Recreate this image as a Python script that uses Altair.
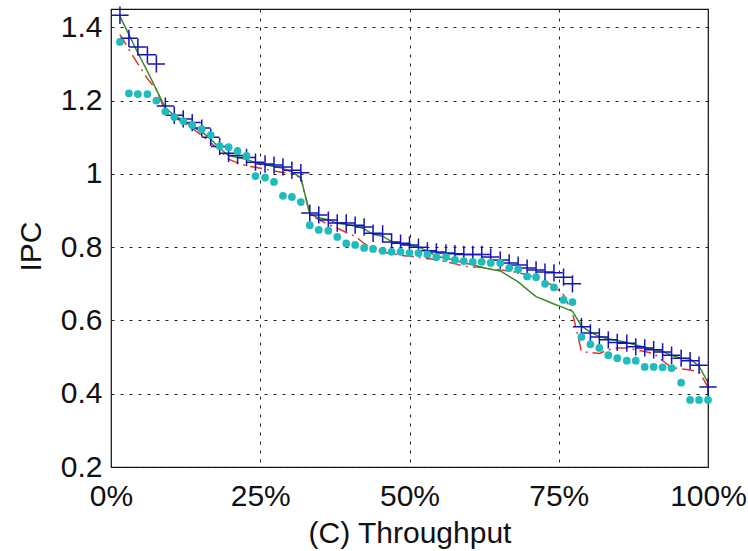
import altair as alt
import pandas as pd

# x positions (% of workloads)
x_pct = [1.5, 3.0, 4.5, 6.1, 7.6, 9.1, 10.6, 12.1, 13.6, 15.2,
         16.7, 18.2, 19.7, 21.2, 22.7, 24.2, 25.8, 27.3, 28.8, 30.3,
         31.8, 33.3, 34.8, 36.4, 37.9, 39.4, 40.9, 42.4, 43.9, 45.5,
         47.0, 48.5, 50.0, 51.5, 53.0, 54.5, 56.1, 57.6, 59.1, 60.6,
         62.1, 63.6, 65.2, 66.7, 68.2, 69.7, 71.2, 72.7, 74.2, 75.8,
         77.3, 78.8, 80.3, 81.8, 83.3, 84.8, 86.4, 87.9, 89.4, 90.9,
         92.4, 93.9, 95.5, 97.0, 98.5, 100.0]

blue_ipc = [1.433, 1.37, 1.346, 1.325, 1.30, 1.185, 1.16, 1.15, 1.14, 1.125,
            1.10, 1.075, 1.056, 1.05, 1.045, 1.032, 1.027, 1.024, 1.019, 1.01,
            1.003, 0.893, 0.888, 0.874, 0.866, 0.866, 0.86, 0.855, 0.838, 0.836,
            0.814, 0.811, 0.806, 0.80, 0.79, 0.787, 0.784, 0.782, 0.78, 0.78,
            0.78, 0.773, 0.765, 0.757, 0.751, 0.743, 0.738, 0.732, 0.73, 0.718,
            0.70, 0.583, 0.566, 0.555, 0.547, 0.54, 0.538, 0.528, 0.525, 0.52,
            0.514, 0.505, 0.497, 0.49, 0.478, 0.418]

green_ipc = [1.43, 1.38, 1.33, 1.28, 1.23, 1.18, 1.16, 1.145, 1.13, 1.115,
             1.095, 1.07, 1.05, 1.045, 1.04, 1.03, 1.025, 1.02, 1.015, 1.005,
             0.99, 0.89, 0.88, 0.875, 0.865, 0.862, 0.858, 0.85, 0.835, 0.83,
             0.815, 0.81, 0.805, 0.80, 0.79, 0.775, 0.77, 0.765, 0.757, 0.752,
             0.745, 0.74, 0.735, 0.72, 0.705, 0.685, 0.665, 0.655, 0.645, 0.635,
             0.625, 0.585, 0.568, 0.556, 0.55, 0.545, 0.54, 0.533, 0.527, 0.52,
             0.515, 0.505, 0.497, 0.495, 0.475, 0.43]

red_ipc = [1.38, 1.34, 1.30, 1.26, 1.23, 1.17, 1.155, 1.14, 1.125, 1.105,
           1.085, 1.065, 1.04, 1.03, 1.022, 1.018, 1.013, 1.008, 1.004, 1.0,
           0.99, 0.89, 0.875, 0.862, 0.852, 0.84, 0.83, 0.81, 0.795, 0.787,
           0.782, 0.778, 0.775, 0.772, 0.77, 0.765, 0.76, 0.755, 0.748, 0.746,
           0.745, 0.74, 0.738, 0.735, 0.73, 0.725, 0.715, 0.705, 0.695, 0.67,
           0.62, 0.516, 0.512, 0.51, 0.52, 0.525, 0.525, 0.52, 0.515, 0.51,
           0.49, 0.472, 0.468, 0.465, 0.46, 0.418]

cyan_ipc = [1.36, 1.22, 1.218, 1.218, 1.20, 1.17, 1.155, 1.144, 1.133, 1.122,
            1.106, 1.076, 1.073, 1.062, 1.049, 0.994, 0.99, 0.978, 0.94, 0.937,
            0.923, 0.86, 0.847, 0.845, 0.828, 0.81, 0.806, 0.798, 0.795, 0.79,
            0.787, 0.787, 0.784, 0.784, 0.78, 0.773, 0.773, 0.765, 0.762, 0.76,
            0.76, 0.757, 0.757, 0.743, 0.74, 0.72, 0.718, 0.70, 0.69, 0.656,
            0.65, 0.555, 0.535, 0.525, 0.505, 0.497, 0.49, 0.49, 0.473, 0.473,
            0.472, 0.47, 0.43, 0.383, 0.383, 0.383]

x_ticks = [0, 25, 50, 75, 100]
y_ticks = [0.2, 0.4, 0.6, 0.8, 1.0, 1.2, 1.4]

df = pd.DataFrame({"x": x_pct, "blue": blue_ipc, "green": green_ipc,
                   "red": red_ipc, "cyan": cyan_ipc})

FONT = "Liberation Sans"

xenc = alt.X("x:Q", scale=alt.Scale(domain=[0, 100], nice=False, zero=False),
             axis=alt.Axis(values=x_ticks, labelExpr="datum.value + '%'",
                           title="(C) Throughput", grid=True, ticks=False, tickSize=0,
                           labelPadding=14, labelFontSize=30, labelFont=FONT,
                           labelColor="#111", titleFontSize=30, titleFont=FONT,
                           titleFontWeight="normal", titleColor="#111",
                           titleY=66, titleBaseline="middle", domain=False,
                           labelOverlap=False, labelFlush=False))

def yenc(col):
    return alt.Y(f"{col}:Q", scale=alt.Scale(domain=[0.2, 1.45], nice=False, zero=False),
                 axis=alt.Axis(values=y_ticks, labelExpr="format(datum.value, '~g')",
                               title="IPC", grid=True, ticks=False, tickSize=0,
                               labelPadding=9, labelFontSize=30, labelFont=FONT,
                               labelColor="#111", titleFontSize=30, titleFont=FONT,
                               titleFontWeight="normal", titleColor="#111",
                               titleX=-80, titleY=237, titleAngle=-90,
                               titleAlign="center", titleBaseline="middle",
                               domain=False, labelOverlap=False, labelFlush=False))

base = alt.Chart(df)

blue = base.mark_point(shape="M-1,0L1,0M0,-1L0,1", filled=False, color="#1414b4",
                       strokeWidth=1.5, size=300, opacity=1).encode(x=xenc, y=yenc("blue"))
green = base.mark_line(color="#3c8a2e", strokeWidth=1.5).encode(x=xenc, y=yenc("green"))
red = base.mark_line(color="#e8302a", strokeWidth=1.5, strokeDash=[12, 5, 2, 5]).encode(
    x=xenc, y=yenc("red"))
cyan = base.mark_circle(color="#1fbcbc", size=60, opacity=1).encode(x=xenc, y=yenc("cyan"))

chart = alt.layer(red, green, blue, cyan).properties(
    width=597, height=458,
    autosize=alt.AutoSizeParams(type="none"),
    padding={"left": 111, "top": 9, "right": 40, "bottom": 84},
    background="white",
).configure_view(stroke="#111", strokeWidth=1.2).configure_axis(
    gridColor="#222", gridDash=[3, 6], gridWidth=1, gridOpacity=1
)

chart.save("out.html", embed_options={"renderer": "svg", "actions": False})
